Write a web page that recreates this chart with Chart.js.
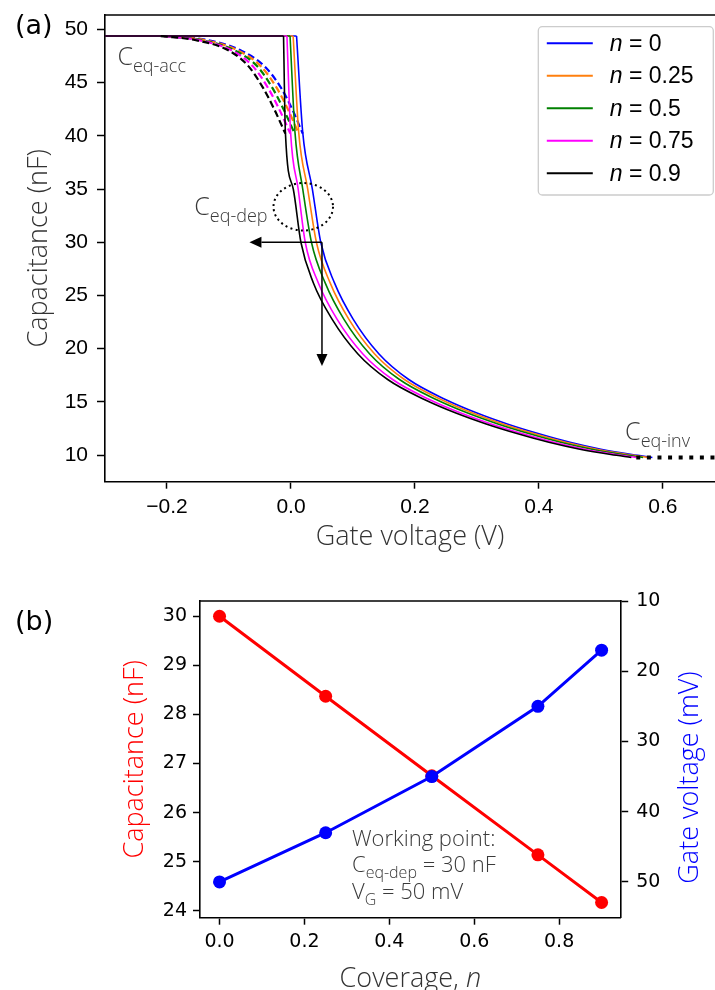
<!DOCTYPE html>
<html>
<head>
<meta charset="utf-8">
<script src="https://cdn.jsdelivr.net/npm/chart.js@4.4.1/dist/chart.umd.min.js"></script>
<style>
  html, body { margin: 0; padding: 0; background: #fff; overflow: hidden; }
  #wrapA { position: absolute; left: 0; top: 0; width: 715px; height: 560px; }
  #wrapB { position: absolute; left: 0; top: 560px; width: 715px; height: 430px; }
</style>
</head>
<body>
<div id="wrapA"><canvas id="chartA"></canvas></div>
<div id="wrapB"><canvas id="chartB"></canvas></div>
<script>
// ---- (a) C-V curves, one per coverage n ----
const seriesNames = ['0', '0.25', '0.5', '0.75', '0.9'];
const curveColors = ['#0000ff', '#ff7f0e', '#008000', '#ff00ff', '#000000'];

const cAcc = 49.37;      // accumulation plateau, nF
const cInv = 9.78;       // inversion level, nF
const cInvFrom = 0.557;  // dotted inversion line starts here (V)

// depletion branch: capacitance levels (nF) and the gate voltage (V) where each curve hits them
const depCap = [49.37, 40.3, 35.0, 30.0, 26.2, 22.8, 19.5, 17.1, 15.2, 13.95, 12.9, 12.0, 11.2, 10.55, 10.05, 9.78];
const depV0   = [0.009, 0.019, 0.0345, 0.048, 0.070, 0.100, 0.142, 0.190, 0.250, 0.300, 0.350, 0.400, 0.450, 0.500, 0.550, 0.583];
const depV025 = [0.0035, 0.0125, 0.027, 0.041, 0.063, 0.093, 0.135, 0.183, 0.243, 0.293, 0.343, 0.393, 0.443, 0.493, 0.543, 0.576];
const depV05  = [-0.0015, 0.0065, 0.019, 0.033, 0.055, 0.085, 0.127, 0.175, 0.235, 0.285, 0.335, 0.385, 0.435, 0.485, 0.535, 0.568];
const depV075 = [-0.0065, -0.0006, 0.0116, 0.023, 0.044, 0.074, 0.116, 0.164, 0.224, 0.274, 0.324, 0.374, 0.424, 0.474, 0.524, 0.557];
const depV09  = [-0.012, -0.009, 0.0037, 0.016, 0.036, 0.066, 0.108, 0.156, 0.216, 0.266, 0.316, 0.366, 0.416, 0.466, 0.516, 0.549];

// dashed branches (roll-off from the plateau)
const dashCap = [49.37, 49.0, 48.0, 46.5, 44.5, 42.5, 40.2];
const dashV0   = [-0.200, -0.135, -0.080, -0.042, -0.016, 0.002, 0.019];
const dashV025 = [-0.200, -0.140, -0.085, -0.048, -0.023, -0.005, 0.0125];
const dashV05  = [-0.205, -0.145, -0.090, -0.054, -0.030, -0.012, 0.006];
const dashV075 = [-0.205, -0.150, -0.095, -0.061, -0.037, -0.019, -0.001];
const dashV09  = [-0.210, -0.155, -0.100, -0.068, -0.045, -0.027, -0.009];

const xTicksA = [-0.2, 0.0, 0.2, 0.4, 0.6];
const yTicksA = [10, 15, 20, 25, 30, 35, 40, 45, 50];

// ---- (b) working point vs coverage ----
const coverage = [0, 0.25, 0.5, 0.75, 0.9];
const capAtWP = [30.0, 28.37, 26.75, 25.14, 24.17];   // nF at VG = 50 mV
const vgAtWP = [50, 43, 35, 25, 17];                  // mV at C = 30 nF
const xTicksB = [0.0, 0.2, 0.4, 0.6, 0.8];
const yTicksB = [24, 25, 26, 27, 28, 29, 30];
const y2TicksB = [10, 20, 30, 40, 50];

const depV = [depV0, depV025, depV05, depV075, depV09];
const dashV = [dashV0, dashV025, dashV05, dashV075, dashV09];

const xMinA = -0.3, xMaxA = 0.684;
const fmt1 = v => (v < 0 ? '\u2212' : '') + Math.abs(v).toFixed(1);
const fmt0 = v => String(v);
const pts = (xs, ys) => xs.map((x, i) => ({ x: x, y: ys[i] }));

function axisStyle(font, tickLen, pad, cb) {
  return {
    grid: { drawOnChartArea: false, drawTicks: true, tickLength: tickLen, tickWidth: 1.5, tickColor: '#000' },
    border: { display: true, color: '#000', width: 1.6 },
    ticks: { font: font, color: '#000', padding: pad, maxRotation: 0, autoSkip: false, callback: cb }
  };
}

// fixed axis box sizes, no extra room for overhanging labels
const fixH = h => s => { s.height = h; s.paddingLeft = 0; s.paddingRight = 0; };
const fixW = w => s => { s.width = w; s.paddingTop = 0; s.paddingBottom = 0; };

function arrow(ctx, x0, y0, x1, y1) {
  const a = Math.atan2(y1 - y0, x1 - x0), L = 12, W = 5.5;
  const bx = x1 - L * Math.cos(a), by = y1 - L * Math.sin(a);
  ctx.beginPath(); ctx.moveTo(x0, y0); ctx.lineTo(bx, by); ctx.stroke();
  ctx.beginPath();
  ctx.moveTo(x1, y1);
  ctx.lineTo(bx + W * Math.sin(a), by - W * Math.cos(a));
  ctx.lineTo(bx - W * Math.sin(a), by + W * Math.cos(a));
  ctx.closePath(); ctx.fill();
}

// text with a subscript
function subText(ctx, x, y, main, sub, rest, size, subSize, weight) {
  ctx.textAlign = 'left'; ctx.textBaseline = 'alphabetic';
  ctx.font = weight + ' ' + size + 'px "Open Sans"';
  ctx.fillText(main, x, y);
  x += ctx.measureText(main).width;
  ctx.font = weight + ' ' + subSize + 'px "Open Sans"';
  ctx.fillText(sub, x, y + subSize * 0.38);
  x += ctx.measureText(sub).width;
  if (rest) {
    ctx.font = weight + ' ' + size + 'px "Open Sans"';
    ctx.fillText(rest, x, y);
  }
}

// ---------- chart (a) ----------
const dsA = [];
seriesNames.forEach((name, i) => {
  const color = curveColors[i];
  const order = seriesNames.length - i;
  dsA.push({ data: pts([xMinA, depV[i][0]], [cAcc, cAcc]), borderColor: color, borderWidth: 1.6, order: order });
  dsA.push({ data: pts(depV[i], depCap), borderColor: color, borderWidth: 1.6, cubicInterpolationMode: 'monotone', order: order });
  dsA.push({ data: pts(dashV[i], dashCap), borderColor: color, borderWidth: 2.2, borderDash: [7, 3.5], cubicInterpolationMode: 'monotone', order: order });
});
dsA.push({ data: pts([cInvFrom, xMaxA], [cInv, cInv]), borderColor: '#000', borderWidth: 4, borderDash: [4, 6.6], order: 0 });

const annA = {
  id: 'annA',
  afterDatasetsDraw(chart) {
    const { ctx, chartArea: a, scales: { x, y } } = chart;
    ctx.save();
    ctx.strokeStyle = '#000'; ctx.fillStyle = '#000';
    ctx.lineWidth = 1.6;
    ctx.beginPath(); ctx.moveTo(a.left - 0.8, a.top); ctx.lineTo(a.right, a.top); ctx.stroke();

    // dotted ellipse around the depletion region
    const ex = x.getPixelForValue(0.0198), ey = y.getPixelForValue(33.33);
    const rx = x.getPixelForValue(0.0198 + 0.048) - ex;
    const ry = y.getPixelForValue(33.33 - 2.23) - ey;
    ctx.lineWidth = 2; ctx.setLineDash([2, 3.3]);
    ctx.beginPath(); ctx.ellipse(ex, ey, rx, ry, 0, 0, Math.PI * 2); ctx.stroke();
    ctx.setLineDash([]);

    // working-point arrows
    ctx.lineWidth = 1.5;
    const px = x.getPixelForValue(0.05), py = y.getPixelForValue(30);
    arrow(ctx, px, py, x.getPixelForValue(-0.067), py);
    arrow(ctx, px, py, px, y.getPixelForValue(18.38));

    // labels
    ctx.fillStyle = '#3a3a3a';
    subText(ctx, x.getPixelForValue(-0.28), y.getPixelForValue(46.64), 'C', 'eq-acc', '', 25, 18, '300');
    subText(ctx, x.getPixelForValue(-0.156), y.getPixelForValue(32.55), 'C', 'eq-dep', '', 25, 18, '300');
    subText(ctx, x.getPixelForValue(0.539), y.getPixelForValue(11.40), 'C', 'eq-inv', '', 25, 18, '300');

    // legend
    const bw = 175, bh = 168.3, bx = a.right - 1.7 - bw, by = a.top + 11.7;
    ctx.fillStyle = 'rgba(255,255,255,0.85)';
    ctx.strokeStyle = '#cccccc'; ctx.lineWidth = 1.3;
    ctx.beginPath(); ctx.roundRect(bx, by, bw, bh, 4); ctx.fill(); ctx.stroke();
    seriesNames.forEach((name, i) => {
      const ry2 = by + 16.6 + i * 32.5;
      ctx.strokeStyle = curveColors[i]; ctx.lineWidth = 2;
      ctx.beginPath(); ctx.moveTo(bx + 8.5, ry2); ctx.lineTo(bx + 54.5, ry2); ctx.stroke();
      ctx.fillStyle = '#000'; ctx.textBaseline = 'middle'; ctx.textAlign = 'left';
      ctx.font = 'italic 23px "Liberation Sans"';
      ctx.fillText('n', bx + 71.5, ry2 + 1);
      const w = ctx.measureText('n').width;
      ctx.font = '23px "Liberation Sans"';
      ctx.fillText(' = ' + name, bx + 71.5 + w, ry2 + 1);
    });

    // panel tag
    ctx.fillStyle = '#000'; ctx.textBaseline = 'alphabetic'; ctx.textAlign = 'left';
    ctx.font = '27px "DejaVu Sans"';
    ctx.fillText('(a)', 15, 33.5);
    ctx.restore();
  }
};

new Chart(document.getElementById('chartA'), {
  type: 'line',
  data: { datasets: dsA },
  options: {
    responsive: true, maintainAspectRatio: false, animation: false,
    layout: { padding: { top: 15, left: 0, right: 0, bottom: 0 } },
    elements: { point: { radius: 0 }, line: { fill: false } },
    plugins: { legend: { display: false }, tooltip: { enabled: false } },
    scales: {
      x: Object.assign(axisStyle({ family: '"Liberation Sans"', size: 21 }, 7, 6, fmt1), {
        type: 'linear', min: xMinA, max: xMaxA,
        afterBuildTicks: s => { s.ticks = xTicksA.map(v => ({ value: v })); },
        afterFit: fixH(78.3),
        title: { display: true, text: 'Gate voltage (V)', color: '#333',
                 font: { family: '"Open Sans"', size: 27, weight: '300' }, padding: { top: 0, bottom: 6 } }
      }),
      y: Object.assign(axisStyle({ family: '"Liberation Sans"', size: 21 }, 8, 9, fmt0), {
        type: 'linear', min: 7.5, max: 51.35,
        afterBuildTicks: s => { s.ticks = yTicksA.map(v => ({ value: v })); },
        afterFit: fixW(105),
        title: { display: true, text: 'Capacitance (nF)', color: '#333',
                 font: { family: '"Open Sans"', size: 27, weight: '300' }, padding: { top: 22.7, bottom: 0 } }
      })
    }
  },
  plugins: [annA]
});

// ---------- chart (b) ----------
const annB = {
  id: 'annB',
  afterDatasetsDraw(chart) {
    const { ctx, chartArea: a, scales: { x, y } } = chart;
    ctx.save();
    ctx.strokeStyle = '#000'; ctx.lineWidth = 1.6;
    ctx.beginPath(); ctx.moveTo(a.left - 0.8, a.top); ctx.lineTo(a.right + 0.8, a.top); ctx.stroke();

    // working point note
    ctx.fillStyle = '#3a3a3a';
    const tx = x.getPixelForValue(0.312), ty = y.getPixelForValue(25.33);
    ctx.textAlign = 'left'; ctx.textBaseline = 'alphabetic';
    ctx.font = '300 22px "Open Sans"';
    ctx.fillText('Working point:', tx, ty);
    subText(ctx, tx, ty + 26.5, 'C', 'eq-dep', ' = 30 nF', 22, 16, '300');
    subText(ctx, tx, ty + 53, 'V', 'G', ' = 50 mV', 22, 16, '300');

    // x title with italic n
    ctx.fillStyle = '#333';
    ctx.font = '300 27px "Open Sans"';
    const t1 = 'Coverage, ';
    const w1 = ctx.measureText(t1).width;
    ctx.font = 'italic 300 27px "Open Sans"';
    const w2 = ctx.measureText('n').width;
    const cx = (a.left + a.right) / 2 - (w1 + w2) / 2;
    ctx.font = '300 27px "Open Sans"';
    ctx.fillText(t1, cx, 427);
    ctx.font = 'italic 300 27px "Open Sans"';
    ctx.fillText('n', cx + w1, 427);

    // right axis title, reading bottom to top
    ctx.save();
    ctx.translate(697.5, 217.5);
    ctx.rotate(-Math.PI / 2);
    ctx.fillStyle = '#0000ff';
    ctx.textAlign = 'center';
    ctx.font = '300 27px "Open Sans"';
    ctx.fillText('Gate voltage (mV)', 0, 0);
    ctx.restore();

    ctx.fillStyle = '#000'; ctx.textAlign = 'left';
    ctx.font = '27px "DejaVu Sans"';
    ctx.fillText('(b)', 15, 69.5);
    ctx.restore();
  }
};

new Chart(document.getElementById('chartB'), {
  type: 'line',
  data: {
    datasets: [
      { label: 'Gate voltage', data: pts(coverage, vgAtWP), yAxisID: 'y2', borderColor: '#0000ff', backgroundColor: '#0000ff',
        borderWidth: 3, pointRadius: 6.5, pointBorderWidth: 0, order: 0 },
      { label: 'Capacitance', data: pts(coverage, capAtWP), yAxisID: 'y', borderColor: '#ff0000', backgroundColor: '#ff0000',
        borderWidth: 3, pointRadius: 6.5, pointBorderWidth: 0, order: 1 }
    ]
  },
  options: {
    responsive: true, maintainAspectRatio: false, animation: false,
    layout: { padding: { top: 41, left: 0, right: 0, bottom: 0 } },
    plugins: { legend: { display: false }, tooltip: { enabled: false } },
    scales: {
      x: Object.assign(axisStyle({ family: '"DejaVu Sans"', size: 19 }, 7, 5.5, fmt1), {
        type: 'linear', min: -0.046, max: 0.945,
        afterBuildTicks: s => { s.ticks = xTicksB.map(v => ({ value: v })); },
        afterFit: fixH(72.3)
      }),
      y: Object.assign(axisStyle({ family: '"DejaVu Sans"', size: 19 }, 7, 6, fmt0), {
        type: 'linear', position: 'left', min: 23.86, max: 30.31,
        afterBuildTicks: s => { s.ticks = yTicksB.map(v => ({ value: v })); },
        afterFit: fixW(200),
        title: { display: true, text: 'Capacitance (nF)', color: '#ff0000',
                 font: { family: '"Open Sans"', size: 27, weight: '300' }, padding: { top: 119.2, bottom: 0 } }
      }),
      y2: Object.assign(axisStyle({ family: '"DejaVu Sans"', size: 19 }, 7.5, 8, fmt0), {
        type: 'linear', position: 'right', reverse: true, min: 10, max: 55.1,
        afterBuildTicks: s => { s.ticks = y2TicksB.map(v => ({ value: v })); },
        afterFit: fixW(94.3)
      })
    }
  },
  plugins: [annB]
});
</script>
</body>
</html>
